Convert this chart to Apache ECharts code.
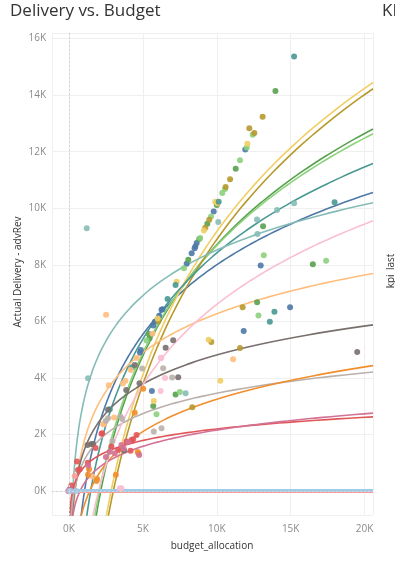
<!DOCTYPE html>
<html><head><meta charset="utf-8">
<script src="https://cdn.jsdelivr.net/npm/echarts@6/dist/echarts.min.js"></script>
<style>html,body{margin:0;padding:0;background:#fff}#c{width:395px;height:569px}</style>
</head><body><div id="c"></div>
<script>
// ---- data ----
const seriesNames = ['Blue','Green','Light green','Olive','Yellow','Teal','Light teal','Light orange','Dark gray','Light gray','Orange','Red','Pink','Light pink','Salmon','Purple','Light purple','Light blue'];
const seriesColors = ['#4e79a7','#59a14f','#8cd17d','#b6992d','#f1ce63','#499894','#86bcb6','#ffbe7d','#79706e','#bab0ac','#f28e2b','#e15759','#d37295','#fabfd2','#ff9d9a','#b07aa1','#d4a6c8','#a0cbe8'];

const ptsBlue = [[9790,9890],[8640,8770],[8550,8650],[8500,8590],[8300,8410],[7960,8040],[6330,6430],[6100,6200],[6260,6410],[5810,5990],[5700,5850],[4860,4990],[4800,4900],[11930,12080],[11820,5660],[14960,6500],[12970,7980],[5610,3540]];
const ptsGreen = [[13970,14150],[11280,11400],[10000,10120],[9360,9450],[8810,8910],[8070,8180],[5400,5550],[13130,9360],[16500,8020],[12730,6680],[7210,3410],[5700,3010],[5450,5400]];
const ptsLightGreen = [[12430,12600],[12030,12150],[11570,11700],[10560,10680],[10370,10540],[9610,9710],[8880,8950],[7780,7880],[5250,5320],[13180,8340],[17400,8140],[12820,6210],[7500,3500],[5920,2710]];
const ptsOlive = [[13100,13240],[12200,12830],[12540,12660],[10900,11030],[10600,10750],[9490,9590],[9220,9310],[11750,6500],[9630,5270],[11570,5060],[8340,2960],[6050,6000]];
const ptsYellow = [[12070,12280],[9900,10230],[10050,10180],[9130,9210],[7280,7400],[6000,6100],[9450,5350],[10240,3900],[5740,3180]];
const ptsTeal = [[15230,15370],[10130,10230],[6670,6790],[7210,7290],[13900,6340],[13590,5990],[17970,10210],[2760,2890],[4270,4380]];
const ptsLightTeal = [[1290,3990],[1200,9290],[10100,9510],[12720,9600],[14080,9940],[15230,10180],[12750,9090],[7890,3460]];
const ptsLightOrange = [[2510,6230],[2690,3740],[4570,4700],[4180,4280],[3820,3900],[3650,3800],[2370,2370],[2310,2360],[11100,4660],[1580,510],[5650,5560],[3050,2600]];
const ptsDarkGray = [[19500,4920],[7050,5330],[6540,5070],[7390,4020],[4450,4460],[3870,3570],[4770,3810],[2640,2870],[1250,1630],[1520,1660],[3730,1430],[1630,1660]];
const ptsLightGray = [[6980,4010],[4950,4330],[2640,2570],[2490,2480],[3480,2630],[3600,2550],[5740,2100],[6260,2220],[2940,1770],[6370,4340]];
const ptsOrange = [[5020,3620],[4450,2770],[4700,1330],[4650,1380],[1860,350],[1290,570],[1360,770],[3170,570],[1900,420]];
const ptsRed = [[2240,2040],[2200,2020],[4570,1980],[4230,1800],[4340,1830],[3890,1750],[4160,1420],[3320,1450],[2870,1570],[540,1040],[1270,1000],[610,740],[730,770],[160,190],[50,50],[1800,1520]];
const ptsPink = [[4000,1720],[4750,1270],[3550,1630],[3100,1330],[2760,1390],[2500,1200],[3700,1500],[1300,900]];
const ptsLightPink = [[6220,4700],[6240,4710],[6200,3540],[3550,100],[3440,100],[6500,4000]];
const ptsSalmon = [[390,530],[100,0]];
const ptsPurple = [[-50,0],[50,50]];
const ptsLightPurple = [[0,0]];
const ptsLightBlue = [[100,0],[500,0]];

// logarithmic trend lines: y = slope * ln(x / x0); slope 0 -> flat line at trendLevel
const trendSlope = [3550,5670,5480,7390,7310,4390,2320,1980,1480,1040,1650,590,830,4100,0,null,null,0];
const trendX0    = [1050,2150,2050,3000,2850,1470,254,422,388,360,1400,242,746,2000,0,null,null,0];
const trendLevel = [0,0,0,0,0,0,0,0,0,0,0,0,0,0,-40,0,0,20];

const xTicks = [0,5000,10000,15000,20000];
const yTicks = [0,2000,4000,6000,8000,10000,12000,14000,16000];

const allPts = [ptsBlue,ptsGreen,ptsLightGreen,ptsOlive,ptsYellow,ptsTeal,ptsLightTeal,ptsLightOrange,ptsDarkGray,ptsLightGray,ptsOrange,ptsRed,ptsPink,ptsLightPink,ptsSalmon,ptsPurple,ptsLightPurple,ptsLightBlue];

const X_MIN = -1150, X_MAX = 20570, Y_MIN = -850, Y_MAX = 16200;

function trendData(i){
  const a = trendSlope[i];
  if (a === null) return null;
  const out = [];
  if (a === 0){
    out.push([200, trendLevel[i]], [X_MAX, trendLevel[i]]);
    return out;
  }
  const x0 = trendX0[i];
  const xs = x0 * Math.exp((Y_MIN - 400) / a);
  const n = 160;
  for (let k = 0; k <= n; k++){
    const x = xs * Math.pow(X_MAX / xs, k / n);
    out.push([x, a * Math.log(x / x0)]);
  }
  return out;
}

const series = [];
series.push({
  type:'line', data:[], silent:true, z:1,
  markLine:{silent:true, symbol:'none', label:{show:false},
    lineStyle:{color:'#d4d4d4', type:[2,2], width:1},
    data:[{xAxis:0},{yAxis:0}]}
});
seriesNames.forEach((nm, i) => {
  const d = trendData(i);
  if (d) series.push({
    type:'line', name: nm + ' trend', data:d, showSymbol:false, symbol:'none', silent:true,
    clip:true, z:2,
    lineStyle:{color: seriesColors[i], width: i === 17 ? 3 : 1.6}
  });
});
seriesNames.forEach((nm, i) => {
  series.push({
    type:'scatter', name:nm, data: allPts[i], symbolSize:6, z:3,
    itemStyle:{color: seriesColors[i], opacity:0.9}
  });
});

const chart = echarts.init(document.getElementById('c'), null, {renderer:'canvas'});
const FONT = "'Open Sans', 'Noto Sans', sans-serif";
chart.setOption({
  animation:false,
  backgroundColor:'#fff',
  grid:{left:52, right:22, top:33, bottom:54},
  xAxis:{type:'value', min:X_MIN, max:X_MAX, splitNumber:4,
    axisLine:{show:true, lineStyle:{color:'#ececec'}}, axisTick:{show:false},
    splitLine:{show:true, lineStyle:{color:'#efefef', width:1}},
    axisLabel:{color:'#8a8a8a', fontSize:10, fontFamily:FONT, margin:9,
      formatter: v => xTicks.includes(v) ? (v/1000)+'K' : ''}},
  yAxis:{type:'value', min:Y_MIN, max:Y_MAX, splitNumber:8,
    axisLine:{show:true, lineStyle:{color:'#ececec'}}, axisTick:{show:false},
    splitLine:{show:true, lineStyle:{color:'#efefef', width:1}},
    axisLabel:{color:'#8a8a8a', fontSize:10, fontFamily:FONT, margin:6,
      formatter: v => yTicks.includes(v) ? (v/1000)+'K' : ''}},
  graphic:[
    {type:'text', left:10, top:3, style:{text:'Delivery vs. Budget', fill:'#333', font:"17px "+FONT}},
    {type:'text', left:382, top:3, style:{text:'KPI', fill:'#333', font:"17px "+FONT}},
    {type:'text', x:13, y:272, rotation:Math.PI/2, style:{text:'Actual Delivery - advRev', fill:'#333', font:"10px "+FONT, align:'center', verticalAlign:'top'}},
    {type:'text', x:212, y:541, style:{text:'budget_allocation', fill:'#333', font:"10px "+FONT, align:'center', verticalAlign:'top'}},
    {type:'text', x:386, y:271, rotation:Math.PI/2, style:{text:'kpi_last', fill:'#333', font:"10px "+FONT, align:'center', verticalAlign:'top'}}
  ],
  series: series
});
</script></body></html>
